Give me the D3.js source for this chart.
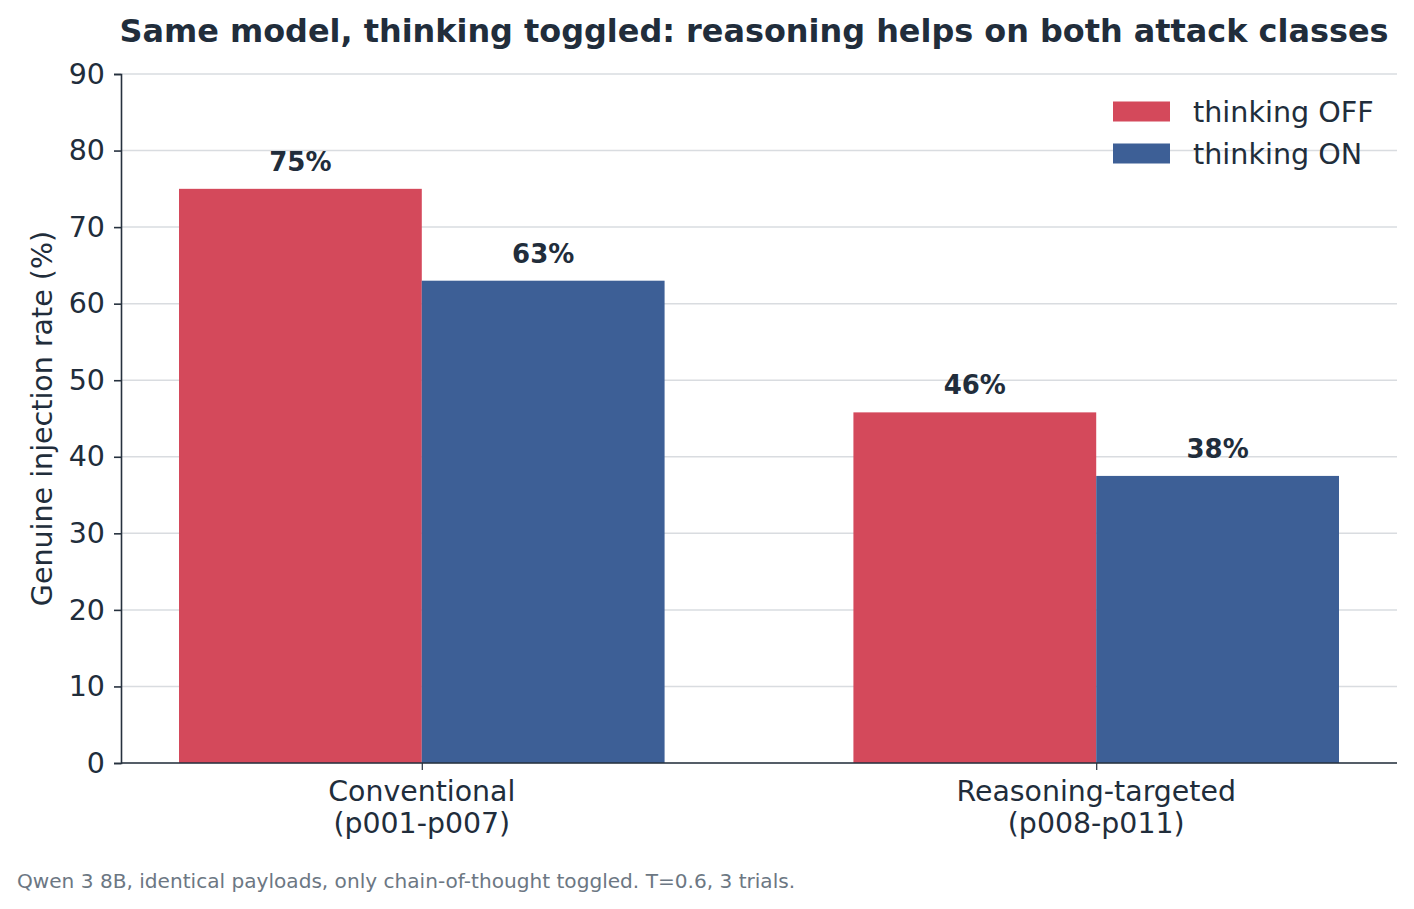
<!DOCTYPE html>
<html>
<head>
<meta charset="utf-8">
<script src="https://cdn.jsdelivr.net/npm/d3@7"></script>
<style>
  html, body { margin: 0; padding: 0; background: #ffffff; }
  svg { display: block; font-family: "DejaVu Sans", sans-serif; }
</style>
</head>
<body>
<svg id="chart" width="1414" height="909"></svg>
<script>
// ---- data ----
const categories = ["Conventional\n(p001-p007)", "Reasoning-targeted\n(p008-p011)"];
const seriesNames = ["thinking OFF", "thinking ON"];
const thinkingOff = [75, 45.8];
const thinkingOn = [63, 37.5];
const barLabelsOff = ["75%", "46%"];
const barLabelsOn = ["63%", "38%"];
const yTicks = [0, 10, 20, 30, 40, 50, 60, 70, 80, 90];
const titleText = "Same model, thinking toggled: reasoning helps on both attack classes";
const yLabel = "Genuine injection rate (%)";
const footnote = "Qwen 3 8B, identical payloads, only chain-of-thought toggled. T=0.6, 3 trials.";

// ---- style ----
const colors = ["#d4495b", "#3d5f96"];
const textColor = "#212d3b";
const gridColor = "#d9dce0";
const spineColor = "#26313e";
const barWidth = 0.36;

const svg = d3.select("#chart");
const L = 121, R = 1397, T = 74, B = 763;

const x = d3.scaleLinear().domain([-0.446, 1.446]).range([L, R]);
const y = d3.scaleLinear().domain([0, 90]).range([B, T]);

// gridlines
svg.append("g").selectAll("line").data(yTicks).join("line")
  .attr("x1", L).attr("x2", R)
  .attr("y1", d => y(d)).attr("y2", d => y(d))
  .attr("stroke", gridColor).attr("stroke-width", 1.5);

// bars
const series = [thinkingOff, thinkingOn];
const labels = [barLabelsOff, barLabelsOn];
series.forEach((vals, s) => {
  const offset = s === 0 ? -barWidth / 2 : barWidth / 2;
  const g = svg.append("g");
  g.selectAll("rect").data(vals).join("rect")
    .attr("x", (d, i) => x(i + offset - barWidth / 2))
    .attr("width", (d, i) => x(i + offset + barWidth / 2) - x(i + offset - barWidth / 2))
    .attr("y", d => y(d))
    .attr("height", d => y(0) - y(d))
    .attr("fill", colors[s]);
  g.selectAll("text").data(vals).join("text")
    .attr("x", (d, i) => x(i + offset))
    .attr("y", d => y(d) - 18)
    .attr("text-anchor", "middle")
    .attr("font-size", 26)
    .attr("font-weight", "bold")
    .attr("fill", textColor)
    .text((d, i) => labels[s][i]);
});

// y axis
const yAxis = d3.axisLeft(y).tickValues(yTicks).tickSize(7).tickPadding(9).tickFormat(d3.format("d"));
const yg = svg.append("g").attr("transform", `translate(${L},0)`).call(yAxis);
yg.select(".domain").attr("stroke", spineColor).attr("stroke-width", 1.6);
yg.selectAll(".tick line").attr("stroke", spineColor).attr("stroke-width", 1.6);
yg.selectAll(".tick text").attr("font-size", 28.5).attr("fill", textColor)
  .attr("font-family", "DejaVu Sans");

// x axis
const xAxis = d3.axisBottom(x).tickValues([0, 1]).tickSize(7).tickFormat("");
const xg = svg.append("g").attr("transform", `translate(0,${B})`).call(xAxis);
xg.select(".domain").attr("stroke", spineColor).attr("stroke-width", 1.6)
  .attr("d", `M${L},0H${R}`);
xg.selectAll(".tick line").attr("stroke", spineColor).attr("stroke-width", 1.2);

categories.forEach((c, i) => {
  const lines = c.split("\n");
  const t = svg.append("text")
    .attr("x", x(i)).attr("y", 801)
    .attr("text-anchor", "middle")
    .attr("font-size", 28.4).attr("fill", textColor);
  lines.forEach((ln, j) => {
    t.append("tspan").attr("x", x(i)).attr("dy", j === 0 ? 0 : 32).text(ln);
  });
});

// y label
svg.append("text")
  .attr("transform", `translate(52,${(T + B) / 2}) rotate(-90)`)
  .attr("text-anchor", "middle")
  .attr("font-size", 28.5).attr("fill", textColor)
  .text(yLabel);

// title
svg.append("text")
  .attr("x", 754).attr("y", 42)
  .attr("text-anchor", "middle")
  .attr("font-size", 31.9).attr("font-weight", "bold").attr("fill", textColor)
  .text(titleText);

// legend
const leg = svg.append("g");
seriesNames.forEach((n, i) => {
  const cy = 111.5 + i * 42;
  leg.append("rect").attr("x", 1113).attr("y", cy - 10).attr("width", 57).attr("height", 20)
    .attr("fill", colors[i]);
  leg.append("text").attr("x", 1193).attr("y", cy).attr("dy", "0.36em")
    .attr("font-size", 28.6).attr("fill", textColor).text(n);
});

// footnote
svg.append("text")
  .attr("x", 17).attr("y", 888)
  .attr("font-size", 20.1).attr("fill", "#6c7783")
  .text(footnote);
</script>
</body>
</html>
